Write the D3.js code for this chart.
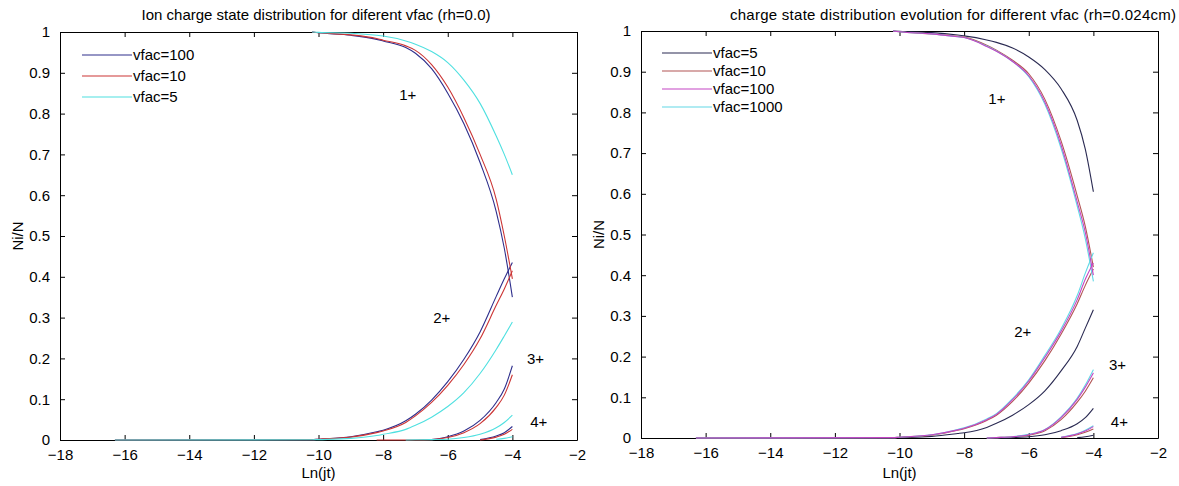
<!DOCTYPE html>
<html>
<head>
<meta charset="utf-8">
<script src="https://cdn.jsdelivr.net/npm/d3@7"></script>
<style>
  html, body { margin: 0; padding: 0; background: #fff; }
  svg { display: block; font-family: "Liberation Sans", Arial, sans-serif; }
</style>
</head>
<body>
<svg id="fig" width="1179" height="486"></svg>
<script>
// Shared abscissa grid, Ln(jt)
const lnjt = [-16.3, -10.2, -10, -9, -8.2, -8, -7.3, -7, -6.5, -6, -5.5, -5, -4.5, -4.25, -4];

// Axis ticks
const xTicks = [-18, -16, -14, -12, -10, -8, -6, -4, -2];
const yTicks = [0, 0.1, 0.2, 0.3, 0.4, 0.5, 0.6, 0.7, 0.8, 0.9, 1];
const yTickLabels = ["0", "0.1", "0.2", "0.3", "0.4", "0.5", "0.6", "0.7", "0.8", "0.9", "1"];

// ---- rh = 0.0 ----
const leftTitle = "Ion charge state distribution for diferent vfac (rh=0.0)";
const leftLegend = ["vfac=100", "vfac=10", "vfac=5"];
const leftColors = ["#2e2e8c", "#cc3535", "#4fe0e0"];
const N = null;
// vfac=100
const l100_q1 = [N, 1, 0.998, 0.992, 0.982, 0.978, 0.962, 0.948, 0.91, 0.85, 0.775, 0.68, 0.56, 0.47, 0.35];
const l100_q2 = [0, 0.001, 0.002, 0.008, 0.02, 0.024, 0.047, 0.063, 0.098, 0.143, 0.198, 0.265, 0.352, 0.395, 0.435];
const l100_q3 = [N, N, N, N, N, N, N, N, 0.001, 0.008, 0.022, 0.048, 0.092, 0.125, 0.182];
const l100_q4 = [N, N, N, N, N, N, N, N, N, N, N, 0.001, 0.01, 0.018, 0.033];
// vfac=10
const l10_q1 = [N, 1, 0.998, 0.993, 0.984, 0.98, 0.966, 0.955, 0.92, 0.865, 0.79, 0.70, 0.59, 0.50, 0.395];
const l10_q2 = [0, 0.001, 0.002, 0.007, 0.018, 0.022, 0.043, 0.059, 0.092, 0.134, 0.185, 0.248, 0.33, 0.37, 0.415];
const l10_q3 = [N, N, N, N, 0, 0, 0, 0, 0.001, 0.006, 0.018, 0.04, 0.08, 0.11, 0.16];
const l10_q4 = [N, N, N, N, N, N, N, N, N, N, N, 0, 0.007, 0.014, 0.026];
// vfac=5
const l5_q1 = [N, 1, 0.999, 0.997, 0.992, 0.99, 0.978, 0.97, 0.952, 0.925, 0.882, 0.825, 0.745, 0.70, 0.65];
const l5_q2 = [0, 0.0005, 0.001, 0.004, 0.011, 0.014, 0.026, 0.036, 0.056, 0.082, 0.116, 0.163, 0.222, 0.255, 0.289];
const l5_q3 = [N, N, N, N, N, N, 0, 0.0005, 0.001, 0.002, 0.006, 0.014, 0.03, 0.043, 0.061];
const l5_q4 = [N, N, N, N, N, N, N, N, N, N, N, N, 0.002, 0.004, 0.008];

// ---- rh = 0.024cm ----
const rightTitle = "charge state distribution evolution for different vfac (rh=0.024cm)";
const rightLegend = ["vfac=5", "vfac=10", "vfac=100", "vfac=1000"];
const rightColors = ["#2a2a52", "#b25454", "#c444c4", "#62d8e6"];
// vfac=5
const r5_q1 = [N, 1, 0.999, 0.996, 0.99, 0.988, 0.978, 0.972, 0.958, 0.936, 0.905, 0.858, 0.78, 0.71, 0.605];
const r5_q2 = [0, 0.0005, 0.001, 0.004, 0.011, 0.013, 0.026, 0.036, 0.056, 0.082, 0.116, 0.165, 0.225, 0.27, 0.315];
const r5_q3 = [N, N, N, N, N, N, N, 0, 0.001, 0.003, 0.008, 0.018, 0.035, 0.05, 0.073];
const r5_q4 = [N, N, N, N, N, N, N, N, N, N, N, N, 0.001, 0.003, 0.007];
// vfac=10
const r10_q1 = [N, 1, 0.998, 0.993, 0.987, 0.985, 0.965, 0.953, 0.928, 0.895, 0.832, 0.73, 0.595, 0.52, 0.42];
const r10_q2 = [0, 0.001, 0.002, 0.007, 0.019, 0.023, 0.043, 0.056, 0.09, 0.135, 0.19, 0.255, 0.33, 0.375, 0.415];
const r10_q3 = [N, N, N, N, N, N, 0, 0.001, 0.003, 0.007, 0.018, 0.045, 0.088, 0.115, 0.148];
const r10_q4 = [N, N, N, N, N, N, N, N, N, N, N, 0.001, 0.008, 0.014, 0.022];
// vfac=100
const r100_q1 = [N, 1, 0.998, 0.993, 0.986, 0.984, 0.962, 0.95, 0.925, 0.89, 0.825, 0.72, 0.58, 0.505, 0.40];
const r100_q2 = [0, 0.001, 0.002, 0.008, 0.02, 0.024, 0.045, 0.058, 0.094, 0.14, 0.198, 0.262, 0.34, 0.39, 0.43];
const r100_q3 = [N, N, N, N, N, N, 0, 0.001, 0.003, 0.008, 0.02, 0.05, 0.095, 0.125, 0.16];
const r100_q4 = [N, N, N, N, N, N, N, N, N, N, N, 0.002, 0.01, 0.017, 0.028];
// vfac=1000
const r1000_q1 = [N, 1, 0.998, 0.993, 0.986, 0.984, 0.963, 0.951, 0.925, 0.888, 0.82, 0.712, 0.57, 0.49, 0.385];
const r1000_q2 = [0, 0.001, 0.002, 0.008, 0.021, 0.025, 0.047, 0.06, 0.097, 0.143, 0.203, 0.268, 0.35, 0.405, 0.455];
const r1000_q3 = [N, N, N, N, N, N, 0, 0.001, 0.003, 0.009, 0.021, 0.052, 0.098, 0.13, 0.168];
const r1000_q4 = [N, N, N, N, N, N, N, N, N, N, N, 0.002, 0.011, 0.019, 0.03];

// Charge-state annotations: [label, Ln(jt), Ni/N]
const leftNotes = [["1+", -7.5, 0.845], ["2+", -6.45, 0.30], ["3+", -3.55, 0.20], ["4+", -3.45, 0.044]];
const rightNotes = [["1+", -7.25, 0.833], ["2+", -6.45, 0.26], ["3+", -3.52, 0.18], ["4+", -3.46, 0.04]];

const FONT = "15px";
const svg = d3.select("#fig");
svg.append("rect").attr("width", 1179).attr("height", 486).attr("fill", "#fff");

function drawPanel(p) {
  const x = d3.scaleLinear().domain([-18, -2]).range([p.left, p.right]);
  const y = d3.scaleLinear().domain([0, 1]).range([p.bottom, p.top]);
  const g = svg.append("g");

  const line = d3.line()
    .defined(d => d[1] !== null)
    .x(d => x(d[0]))
    .y(d => y(d[1]))
    .curve(d3.curveMonotoneX);

  // box axes with inward ticks
  const tick = 5;
  const axes = g.append("g");
  const bottomAxis = axes.append("g").attr("transform", `translate(0,${p.bottom})`)
    .call(d3.axisBottom(x).tickValues(xTicks).tickSizeInner(-tick).tickSizeOuter(0).tickPadding(9).tickFormat(d3.format("d")));
  axes.append("g").attr("transform", `translate(0,${p.top})`)
    .call(d3.axisTop(x).tickValues(xTicks).tickSizeInner(-tick).tickSizeOuter(0).tickFormat(""));
  axes.append("g").attr("transform", `translate(${p.left},0)`)
    .call(d3.axisLeft(y).tickValues(yTicks).tickSizeInner(-tick).tickSizeOuter(0).tickPadding(10)
      .tickFormat((d, i) => yTickLabels[i]));
  axes.append("g").attr("transform", `translate(${p.right},0)`)
    .call(d3.axisRight(y).tickValues(yTicks).tickSizeInner(-tick).tickSizeOuter(0).tickFormat(""));
  axes.selectAll(".domain").attr("stroke", "#000").attr("stroke-width", 1);
  axes.selectAll(".tick line").attr("stroke", "#000");
  axes.selectAll(".tick text").attr("fill", "#000").style("font-size", FONT)
    .style("font-family", "'Liberation Sans', Arial, sans-serif");
  bottomAxis.selectAll(".tick text").attr("dy", "0.71em");

  // curves, drawn in the requested stacking order
  p.drawOrder.forEach(i => {
    p.series[i].forEach(vals => {
      const pts = lnjt.map((v, k) => [v, vals[k]]);
      g.append("path").datum(pts)
        .attr("fill", "none").attr("stroke", p.colors[i]).attr("stroke-width", 1.1)
        .attr("d", line);
    });
  });

  // charge-state annotations
  p.notes.forEach(n => {
    g.append("text").attr("x", x(n[1])).attr("y", y(n[2])).attr("dy", "0.35em")
      .style("font-size", FONT).attr("fill", "#000").text(n[0]);
  });

  // legend
  p.legend.forEach((name, i) => {
    const ly = p.legendRows[i];
    g.append("line").attr("x1", p.legendX).attr("x2", p.legendX + 50)
      .attr("y1", ly).attr("y2", ly).attr("stroke", p.colors[i]).attr("stroke-width", 1.1);
    g.append("text").attr("x", p.legendX + 51).attr("y", ly).attr("dy", "0.35em")
      .style("font-size", FONT).attr("fill", "#000").text(name);
  });

  // title
  const t = g.append("text").attr("x", p.titleX).attr("y", 20).attr("text-anchor", p.titleAnchor)
    .style("font-size", FONT).attr("fill", "#000").text(p.title);
  if (p.titleWidth) t.attr("textLength", p.titleWidth).attr("lengthAdjust", "spacing");

  // axis labels
  g.append("text").attr("x", (p.left + p.right) / 2).attr("y", 478).attr("text-anchor", "middle")
    .style("font-size", FONT).attr("fill", "#000").text("Ln(jt)");
  g.append("text").attr("transform", `translate(${p.left - 37},${(p.top + p.bottom) / 2}) rotate(-90)`)
    .attr("text-anchor", "middle").style("font-size", FONT).attr("fill", "#000").text("Ni/N");
}

drawPanel({
  left: 60, right: 577, top: 32, bottom: 440,
  title: leftTitle, titleX: 316, titleAnchor: "middle",
  colors: leftColors, legend: leftLegend, legendX: 82, legendRows: [55, 76, 97],
  notes: leftNotes,
  series: [
    [l100_q1, l100_q2, l100_q3, l100_q4],
    [l10_q1, l10_q2, l10_q3, l10_q4],
    [l5_q1, l5_q2, l5_q3, l5_q4]
  ],
  drawOrder: [0, 1, 2]
});

drawPanel({
  left: 641, right: 1158, top: 31, bottom: 438,
  title: rightTitle, titleX: 730, titleAnchor: "start", titleWidth: 446,
  colors: rightColors, legend: rightLegend, legendX: 662, legendRows: [53, 71, 89, 107],
  notes: rightNotes,
  series: [
    [r5_q1, r5_q2, r5_q3, r5_q4],
    [r10_q1, r10_q2, r10_q3, r10_q4],
    [r100_q1, r100_q2, r100_q3, r100_q4],
    [r1000_q1, r1000_q2, r1000_q3, r1000_q4]
  ],
  // magenta (vfac=100) on top of the cyan bundle
  drawOrder: [0, 1, 3, 2]
});
</script>
</body>
</html>
